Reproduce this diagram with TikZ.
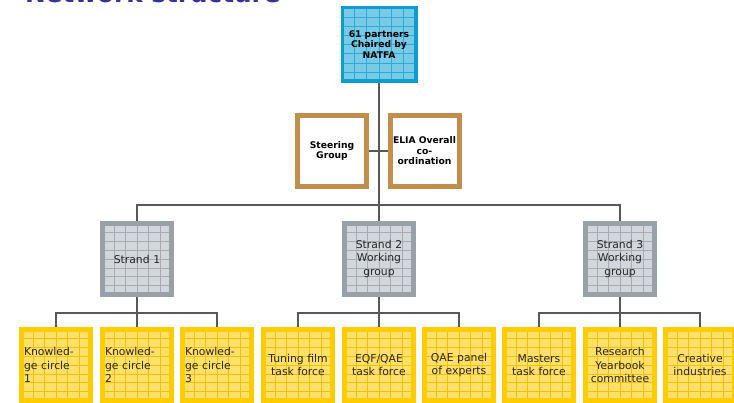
\documentclass[tikz,border=0pt]{standalone}
\usepackage{fontspec}
\setmainfont{DejaVu Sans}
\usetikzlibrary{calc}

\definecolor{yellowline}{HTML}{FFCC00}
\definecolor{yellowfill}{HTML}{FFE06A}
\definecolor{yellowgrid}{HTML}{F2C200}
\definecolor{greyline}{HTML}{98A1AA}
\definecolor{greyfill}{HTML}{D3D7DB}
\definecolor{greygrid}{HTML}{A3ABB3}
\definecolor{blueline}{HTML}{0A9ED0}
\definecolor{bluefill}{HTML}{78CAE7}
\definecolor{bluegrid}{HTML}{2AABD9}
\definecolor{brownline}{HTML}{C28E4C}
\definecolor{linkgrey}{HTML}{585858}
\definecolor{titleblue}{HTML}{33339A}

\tikzset{
    gridbox/.style n args={3}{draw=#1, fill=#2, line width=5pt,
        minimum width=69pt, minimum height=71pt, text width=64pt,
        inner xsep=2.5pt, inner ysep=0pt, align=center,
        font=\fontsize{10.8}{13.2}\selectfont, text=black!85,
        path picture={
            \foreach \i in {1,...,5}
                \draw [#3, line width=0.6pt]
                    ($(path picture bounding box.north west)!\i/6!(path picture bounding box.north east)$) --
                    ($(path picture bounding box.south west)!\i/6!(path picture bounding box.south east)$);
            \foreach \j in {1,...,7}
                \draw [#3, line width=0.6pt]
                    ($(path picture bounding box.north west)!\j/8!(path picture bounding box.south west)$) --
                    ($(path picture bounding box.north east)!\j/8!(path picture bounding box.south east)$);
        }},
    chair/.style={gridbox={blueline}{bluefill}{bluegrid}, line width=3.5pt,
        minimum width=73.5pt, minimum height=73.5pt, text=black,
        font=\fontsize{9.2}{10.8}\selectfont\bfseries},
    board/.style={draw=brownline, fill=white, line width=5pt,
        minimum width=69pt, minimum height=71pt, text width=64pt,
        inner xsep=2.5pt, inner ysep=0pt, align=center,
        font=\fontsize{9.2}{10.5}\selectfont\bfseries},
    strand/.style={gridbox={greyline}{greyfill}{greygrid}},
    task/.style={gridbox={yellowline}{yellowfill}{yellowgrid}},
    link/.style={draw=linkgrey, line width=2pt}
}

\begin{document}
\begin{tikzpicture}[x=1pt, y=-1pt]
    \useasboundingbox (0,0) rectangle (734,403);
    \clip (0,0) rectangle (734,403);

    \node [anchor=base west, inner sep=0pt, text=titleblue,
        font=\fontsize{24.7}{30}\selectfont\bfseries] (title) at (25,3) {Network structure};

    \node [chair] (top) at (379,44.5) {61 partners\\Chaired by\\NATFA};
    \node [board] (steer) at (332,151) {Steering\\Group};
    \node [board] (elia) at (424.5,151) {ELIA Overall\\co-\\ordination};

    \node [strand] (s1) at (137,259) {Strand 1};
    \node [strand] (s2) at (379,259) {Strand 2\\Working\\group};
    \node [strand] (s3) at (620,259) {Strand 3\\Working\\group};

    \node [task, align=left] (k1) at (56,365) {Knowled-\\ge circle\\1};
    \node [task, align=left] (k2) at (137,365) {Knowled-\\ge circle\\2};
    \node [task, align=left] (k3) at (217,365) {Knowled-\\ge circle\\3};
    \node [task] (tuning) at (298,365) {Tuning film\\task force};
    \node [task] (eqf) at (379,365) {EQF/QAE\\task force};
    \node [task] (panel) at (459,365) {QAE panel\\of experts};
    \node [task] (masters) at (539,365) {Masters\\task force};
    \node [task] (yearbook) at (620,365) {Research\\Yearbook\\committee};
    \node [task] (creative) at (700,365) {Creative\\industries};

    \coordinate (hub) at (379,205);
    \coordinate (h1) at (137,313);
    \coordinate (h2) at (379,313);
    \coordinate (h3) at (620,313);

    \draw [link] (top) -- (s2);
    \draw [link] (steer) -- (elia);
    \draw [link] (s1) |- (hub) -| (s3);

    \draw [link] (s1) -- (k2);
    \draw [link] (k1) |- (h1) -| (k3);
    \draw [link] (s2) -- (eqf);
    \draw [link] (tuning) |- (h2) -| (panel);
    \draw [link] (s3) -- (yearbook);
    \draw [link] (masters) |- (h3) -| (creative);
\end{tikzpicture}
\end{document}
